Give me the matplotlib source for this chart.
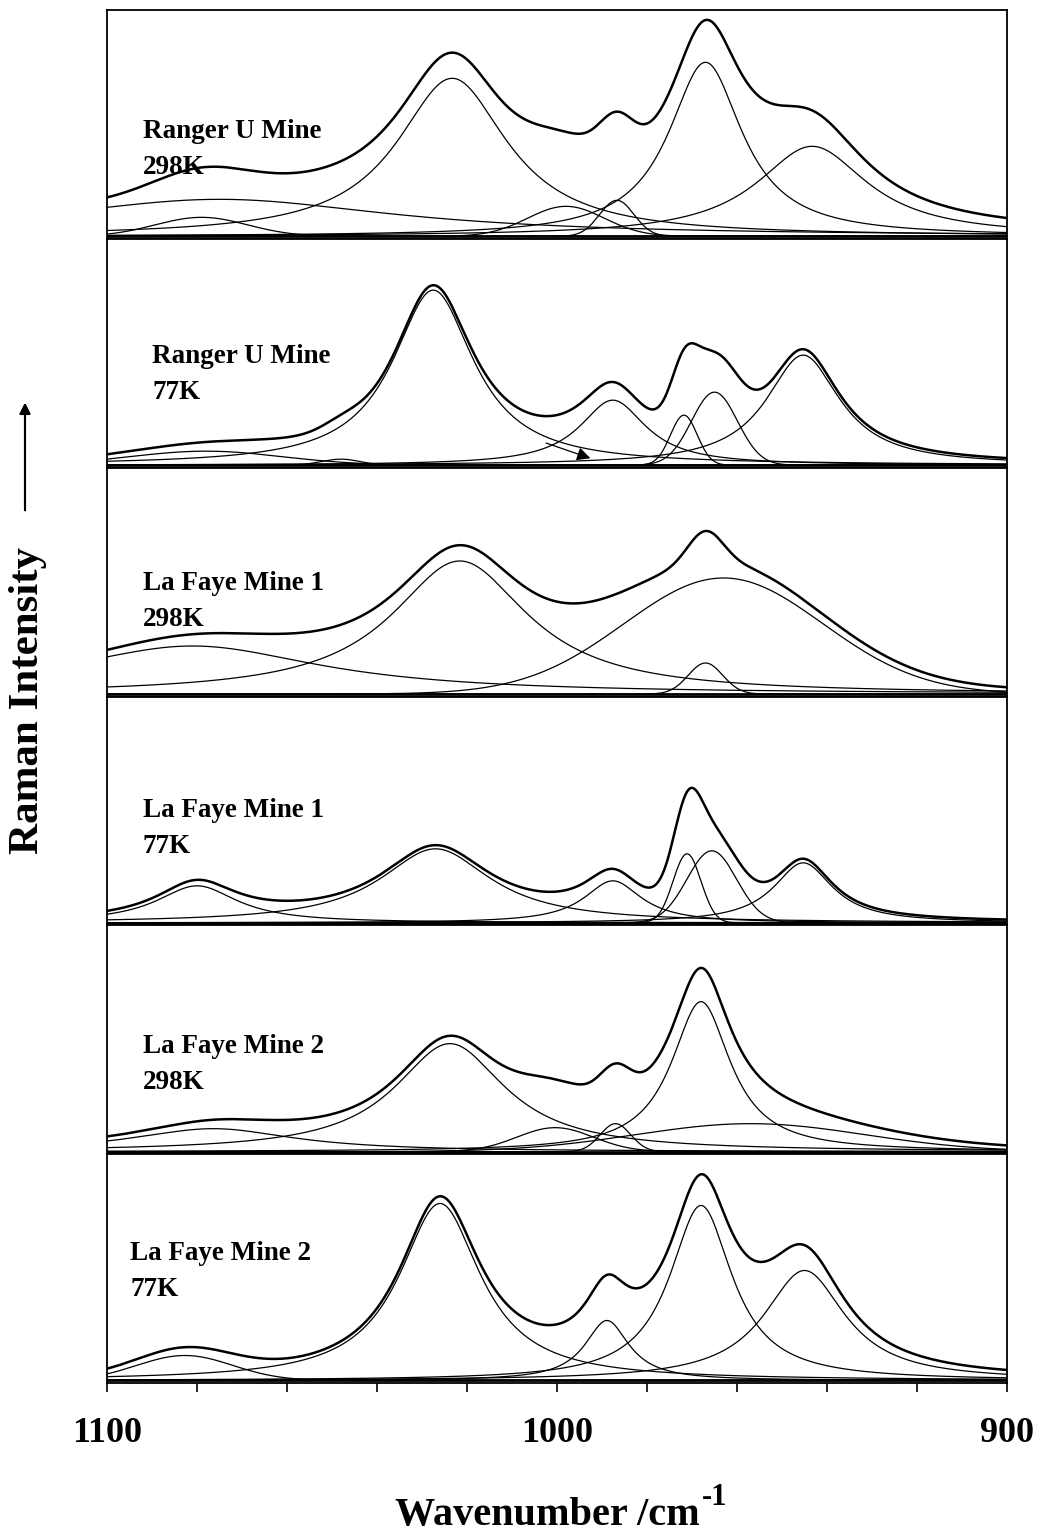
import matplotlib.pyplot as plt
import numpy as np

plt.rcParams['font.family'] = ['Liberation Serif', 'DejaVu Serif']
plt.rcParams['font.weight'] = 'bold'

sample_names = ["Ranger U Mine", "Ranger U Mine", "La Faye Mine 1",
                "La Faye Mine 1", "La Faye Mine 2", "La Faye Mine 2"]
temperatures = ["298K", "77K", "298K", "77K", "298K", "77K"]

# fitted bands: centre /cm-1, height, FWHM /cm-1, lorentzian (1) or gaussian (0)
centres_1 = [1075, 1079, 1023.3, 998, 986.7, 967, 943.3]
heights_1 = [37, 19, 158, 30, 36, 174, 90]
fwhm_1 = [95, 24, 30, 20, 9, 20, 30]
shape_1 = [1, 0, 1, 0, 0, 1, 1]

centres_2 = [1078, 1048, 1027.5, 987.6, 971.8, 965, 945.3]
heights_2 = [14, 6, 175, 65, 50, 73, 110]
fwhm_2 = [40, 10, 22, 18, 7, 12, 20]
shape_2 = [0, 0, 1, 1, 0, 0, 1]

centres_3 = [1081, 1021.6, 963, 967]
heights_3 = [48, 133, 116, 31]
fwhm_3 = [70, 37, 52, 9]
shape_3 = [1, 1, 0, 0]

centres_4 = [1080, 1027, 987.6, 971.1, 965.6, 945.3]
heights_4 = [37, 74, 42, 69, 72, 60]
fwhm_4 = [22, 30, 15.6, 7.3, 13, 16]
shape_4 = [1, 1, 1, 0, 0, 1]

centres_5 = [1076.4, 1023.8, 1000.4, 987, 968, 957]
heights_5 = [23, 108, 24, 28, 150, 28]
fwhm_5 = [44, 30, 20, 8, 16, 60]
shape_5 = [1, 1, 0, 0, 1, 0]

centres_6 = [1082.7, 1026, 988.9, 968, 945]
heights_6 = [25, 177, 60, 175, 110]
fwhm_6 = [25, 22, 12, 17, 22]
shape_6 = [0, 1, 1, 1, 1]

fits = [(centres_1, heights_1, fwhm_1, shape_1),
        (centres_2, heights_2, fwhm_2, shape_2),
        (centres_3, heights_3, fwhm_3, shape_3),
        (centres_4, heights_4, fwhm_4, shape_4),
        (centres_5, heights_5, fwhm_5, shape_5),
        (centres_6, heights_6, fwhm_6, shape_6)]


def band(x, c, h, w, lor):
    if lor:
        return h / (1 + ((x - c) / (w / 2)) ** 2)
    return h * np.exp(-4 * np.log(2) * ((x - c) / w) ** 2)


W, H = 1041, 1535
fig, axes = plt.subplots(6, 1, figsize=(W / 100, H / 100), dpi=100, sharex=True)
fig.subplots_adjust(left=107 / W, right=1007 / W, top=1 - 10 / H, bottom=1 - 1383 / H, hspace=0)

x = np.linspace(900, 1100, 2001)
for i, ax in enumerate(axes):
    c, h, w, s = fits[i]
    total = np.zeros_like(x)
    for j in range(len(c)):
        y = band(x, c[j], h[j], w[j], s[j])
        total += y
        ax.plot(x, y, color='black', lw=0.9)
    ax.plot(x, total, color='black', lw=1.8)
    ax.axhline(0, color='black', lw=2.0)
    ax.set_xlim(1100, 900)
    ax.set_ylim(-2.5, 226.3)
    ax.set_yticks([])
    for sp in ax.spines.values():
        sp.set_linewidth(1.3)
    ax.tick_params(axis='x', which='both', bottom=False, labelbottom=False)

# the arrow in the Ranger 77K panel
axes[1].annotate('', xy=(992, 6), xytext=(1003, 23),
                 arrowprops=dict(arrowstyle='-|>', color='black', lw=0.9, mutation_scale=20))

ax = axes[-1]
ax.set_xticks([1100, 1000, 900])
ax.set_xticks(np.arange(900, 1101, 20), minor=True)
ax.tick_params(axis='x', which='both', bottom=True, direction='out', length=6.5, width=1.2)
ax.tick_params(axis='x', which='major', labelbottom=True, labelsize=26, pad=18)

# axis title, with the -1 set as a raised smaller text
fig.text(700 / W, 1 - 1525 / H, 'Wavenumber /cm', fontsize=29, fontweight='bold',
         ha='right', va='baseline')
fig.text(702 / W, 1 - 1505 / H, '-1', fontsize=22, fontweight='bold',
         ha='left', va='baseline')

# panel captions
label_x = [143, 152, 143, 143, 143, 130]
label_y = [138, 363, 590, 817, 1053, 1260]
for i in range(6):
    fig.text(label_x[i] / W, 1 - label_y[i] / H, sample_names[i], fontsize=19.5,
             ha='left', va='baseline')
    fig.text(label_x[i] / W, 1 - (label_y[i] + 36) / H, temperatures[i], fontsize=19.5,
             ha='left', va='baseline')

fig.text(28 / W, 1 - 701 / H, 'Raman Intensity', fontsize=31, rotation=90,
         ha='center', va='center')
fig.add_artist(plt.annotate('', xy=(25 / W, 1 - 400 / H), xytext=(25 / W, 1 - 513 / H),
                            xycoords='figure fraction', textcoords='figure fraction',
                            arrowprops=dict(arrowstyle='-|>', color='black', lw=1.5,
                                            mutation_scale=16)))

plt.savefig('out.png', dpi=100)
